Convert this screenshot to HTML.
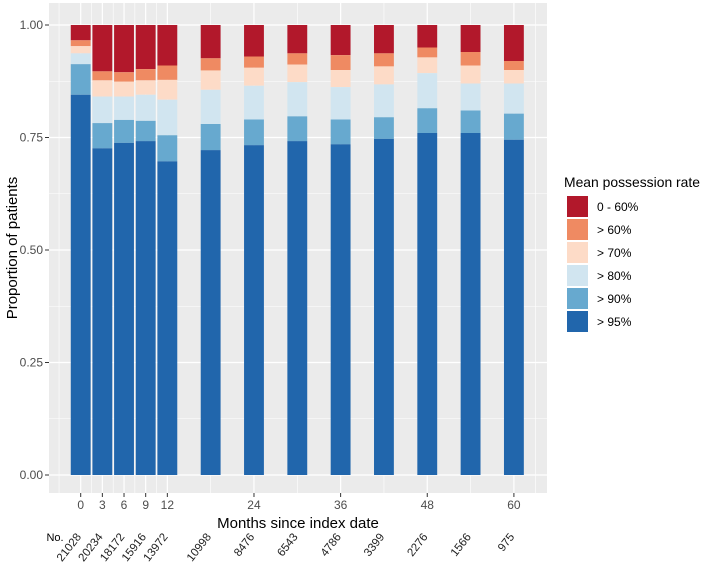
<!DOCTYPE html>
<html><head><meta charset="utf-8"><style>
body{margin:0;background:#fff;}
svg{display:block;font-family:"Liberation Sans",Arial,sans-serif;}
</style></head><body>
<svg id="chart" width="704" height="568" viewBox="0 0 704 568">
<rect x="49" y="3" width="498" height="490" fill="#EBEBEB"/>
<g id="grid"></g><g id="bars"></g><g id="axes"></g><g id="legend"></g>
</svg>
<script>
const months=[0,3,6,9,12,18,24,30,36,42,48,54,60];
const counts=["21028","20234","18172","15916","13972","10998","8476","6543","4786","3399","2276","1566","975"];
const categories=["0 - 60%","> 60%","> 70%","> 80%","> 90%","> 95%"];
const b1=[0.966,0.897,0.895,0.902,0.910,0.926,0.930,0.937,0.933,0.937,0.950,0.940,0.920];
const b2=[0.953,0.877,0.874,0.877,0.878,0.899,0.905,0.912,0.900,0.908,0.928,0.910,0.900];
const b3=[0.937,0.841,0.841,0.845,0.834,0.856,0.865,0.873,0.862,0.868,0.893,0.870,0.870];
const b4=[0.913,0.782,0.789,0.787,0.755,0.780,0.790,0.797,0.790,0.795,0.815,0.810,0.803];
const b5=[0.845,0.726,0.738,0.742,0.697,0.722,0.733,0.742,0.735,0.747,0.760,0.760,0.745];
const xTicks=[0,3,6,9,12,24,36,48,60];
const yTicks=[0,0.25,0.5,0.75,1];
const yTickLabels=["0.00","0.25","0.50","0.75","1.00"];
const colors=["#B2182B","#EF8A62","#FDDBC7","#D1E5F0","#67A9CF","#2166AC"];
const NS="http://www.w3.org/2000/svg";
const X=m=>80.7+m*7.22, Y=v=>475-v*450;
function mk(p,t,a){const e=document.createElementNS(NS,t);for(const k in a)e.setAttribute(k,a[k]);p.appendChild(e);return e;}
const grid=document.getElementById('grid'),bars=document.getElementById('bars'),axes=document.getElementById('axes'),leg=document.getElementById('legend');
[0.125,0.375,0.625,0.875].forEach(v=>{const l=mk(grid,'line',{x1:49,x2:547,y1:Y(v),y2:Y(v),stroke:'#fff','stroke-width':0.6});

});
[-3,1.5,4.5,7.5,10.5,18,30,42,54,63].forEach(m=>{const l=mk(grid,'line',{x1:X(m),x2:X(m),y1:3,y2:493,stroke:'#fff','stroke-width':0.6});

});
yTicks.forEach((v,i)=>{const l=mk(grid,'line',{x1:49,x2:547,y1:Y(v),y2:Y(v),stroke:'#fff','stroke-width':1.2});


mk(axes,'line',{x1:45,x2:49,y1:Y(v),y2:Y(v),stroke:'#333','stroke-width':1});
const t=mk(axes,'text',{x:43,y:Y(v)+4,'text-anchor':'end','font-size':12,fill:'#4D4D4D'});t.textContent=yTickLabels[i];

});
xTicks.forEach(m=>{const l=mk(grid,'line',{x1:X(m),x2:X(m),y1:3,y2:493,stroke:'#fff','stroke-width':1.2});


mk(axes,'line',{x1:X(m),x2:X(m),y1:493,y2:497,stroke:'#333','stroke-width':1});
const t=mk(axes,'text',{x:X(m),y:509,'text-anchor':'middle','font-size':12,fill:'#4D4D4D'});t.textContent=m;

});
const bw=2.75*7.22;
months.forEach((m,i)=>{const bounds=[1,b1[i],b2[i],b3[i],b4[i],b5[i],0];
for(let k=0;k<6;k++){const r=mk(bars,'rect',{x:X(m)-bw/2,y:Y(bounds[k]),width:bw,height:Y(bounds[k+1])-Y(bounds[k]),fill:colors[k]});

}
const t=mk(axes,'text',{x:X(m)+1,y:537,'text-anchor':'end','font-size':11.5,fill:'#222',transform:`rotate(-52 ${X(m)+1} 537)`});t.textContent=counts[i];

});
let t=mk(axes,'text',{x:55,y:541,'text-anchor':'middle','font-size':11,fill:'#000'});t.textContent='No.';


t=mk(axes,'text',{x:298,y:528,'text-anchor':'middle','font-size':15,fill:'#000'});t.textContent='Months since index date';


t=mk(axes,'text',{x:17,y:248,'text-anchor':'middle','font-size':15,fill:'#000',transform:'rotate(-90 17 248)'});t.textContent='Proportion of patients';


t=mk(leg,'text',{x:564,y:187,'font-size':14,fill:'#000',textLength:136,lengthAdjust:'spacingAndGlyphs'});t.textContent='Mean possession rate';


categories.forEach((c,k)=>{const y=196+k*23;
const r=mk(leg,'rect',{x:567,y:y,width:21,height:21,fill:colors[k]});


const tt=mk(leg,'text',{x:597,y:y+15,'font-size':12,fill:'#000'});tt.textContent=c;

});
</script>
</body></html>
